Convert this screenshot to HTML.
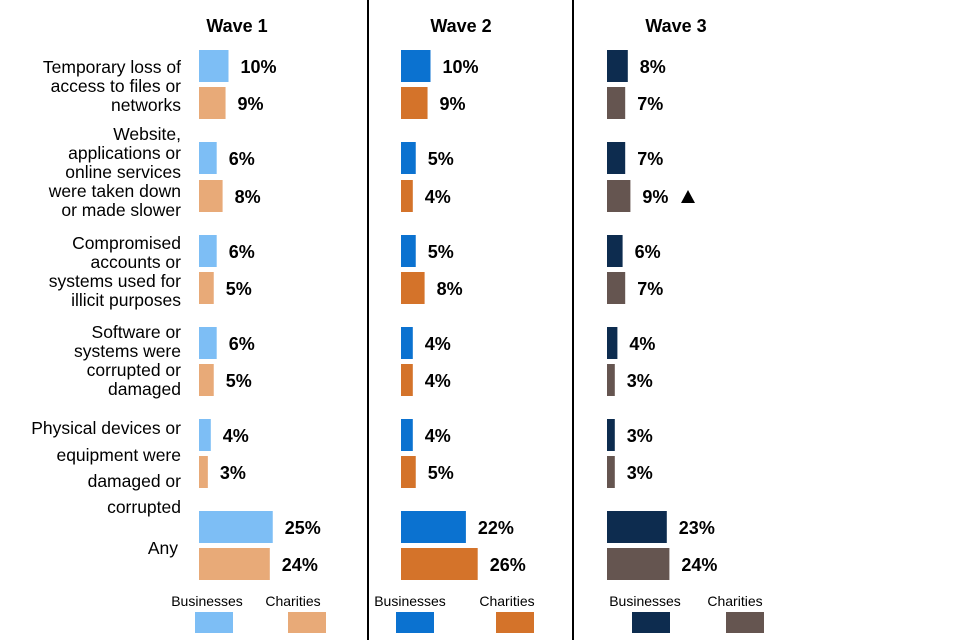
<!DOCTYPE html>
<html><head><meta charset="utf-8"><style>
body{margin:0;background:#fff;}
svg{display:block;font-family:"Liberation Sans",Arial,sans-serif;}
</style></head><body>
<svg id="c" width="960" height="640">
<line x1="368" y1="0" x2="368" y2="640" stroke="#000" stroke-width="2"/>
<line x1="573" y1="0" x2="573" y2="640" stroke="#000" stroke-width="2"/>
<g font-size="17.5" fill="#000" text-anchor="end">
<text x="181" y="73">Temporary loss of</text><text x="181" y="92">access to files or</text><text x="181" y="111">networks</text>
<text x="181" y="140">Website,</text><text x="181" y="159">applications or</text><text x="181" y="178">online services</text><text x="181" y="197">were taken down</text><text x="181" y="216">or made slower</text>
<text x="181" y="249">Compromised</text><text x="181" y="268">accounts or</text><text x="181" y="287">systems used for</text><text x="181" y="306">illicit purposes</text>
<text x="181" y="338">Software or</text><text x="181" y="357">systems were</text><text x="181" y="376">corrupted or</text><text x="181" y="395">damaged</text>
<text x="181" y="434">Physical devices or</text><text x="181" y="461">equipment were</text><text x="181" y="487">damaged or</text><text x="181" y="513">corrupted</text>
<text x="178" y="554">Any</text>
</g>
<g id="bars"></g>
<polygon points="681,203 695,203 688,190" fill="#000"/>
</svg>
<script>
const categories=["Temporary loss","Website down","Compromised accounts","Software corrupted","Physical devices","Any"];
const waves=["Wave 1","Wave 2","Wave 3"];
const w1Businesses=[10,6,6,6,4,25];
const w1Charities=[9,8,5,5,3,24];
const w2Businesses=[10,5,5,4,4,22];
const w2Charities=[9,4,8,4,5,26];
const w3Businesses=[8,7,6,4,3,23];
const w3Charities=[7,9,7,3,3,24];
const series=[[w1Businesses,w1Charities],[w2Businesses,w2Charities],[w3Businesses,w3Charities]];
const colors=[["#7dbef5","#e8aa78"],["#0b72d0","#d4732a"],["#0d2c4f","#655550"]];
const x0=[199,401,607], scale=[2.95,2.95,2.6], headX=[237,461,676];
const bizY=[66,158,251,343,435,527], chY=[103,196,288,380,472,564];
const legX=[[195,288],[396,496],[632,726]], legTX=[[207,293],[410,507],[645,735]];
const ns="http://www.w3.org/2000/svg", g=document.getElementById('bars');
function mk(t,a){const e=document.createElementNS(ns,t);for(const k in a)e.setAttribute(k,a[k]);g.appendChild(e);return e;}
waves.forEach((w,wi)=>{
  const h=mk('text',{x:headX[wi],y:32,'font-size':18,'font-weight':'bold','text-anchor':'middle'});h.textContent=w;
  
  
  series[wi].forEach((vals,si)=>{
    const ys=si?chY:bizY;
    vals.forEach((v,i)=>{
      const wd=v*scale[wi];
      const r=mk('rect',{x:x0[wi],y:ys[i]-16,width:wd,height:32,fill:colors[wi][si]});
      
      
      const t=mk('text',{x:x0[wi]+wd+12,y:ys[i]+7,'font-size':18,'font-weight':'bold'});t.textContent=v+'%';
      
      
    });
    const lr=mk('rect',{x:legX[wi][si],y:612,width:38,height:21,fill:colors[wi][si]});
    
    
    const lt=mk('text',{x:legTX[wi][si],y:606,'font-size':14,'text-anchor':'middle'});lt.textContent=si?'Charities':'Businesses';
    
    
  });
});
</script>
</body></html>
